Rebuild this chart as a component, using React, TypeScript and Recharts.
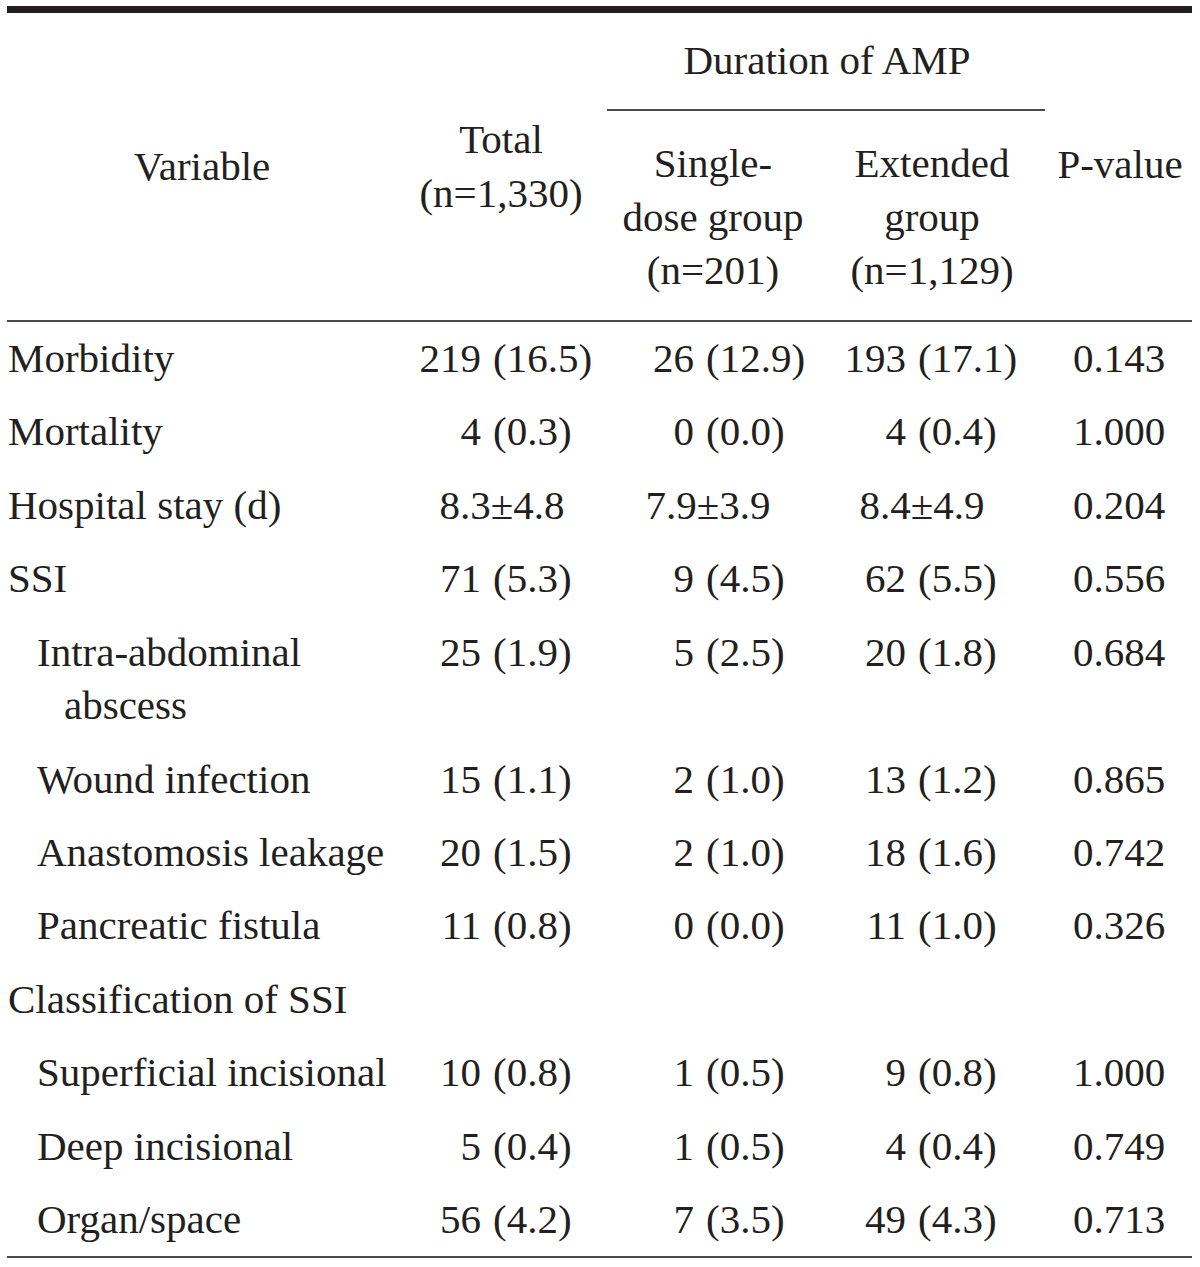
import React from "react";
import { ScatterChart, Scatter, XAxis, YAxis, ReferenceLine } from "recharts";

// table content
const variables = [
  ["Morbidity"],
  ["Mortality"],
  ["Hospital stay (d)"],
  ["SSI"],
  ["Intra-abdominal", "abscess"],
  ["Wound infection"],
  ["Anastomosis leakage"],
  ["Pancreatic fistula"],
  ["Classification of SSI"],
  ["Superficial incisional"],
  ["Deep incisional"],
  ["Organ/space"],
];
const isSubItem = [false, false, false, false, true, true, true, true, false, true, true, true];

const totalCol = ["219 (16.5)", "4 (0.3)", "8.3±4.8", "71 (5.3)", "25 (1.9)", "15 (1.1)", "20 (1.5)", "11 (0.8)", "", "10 (0.8)", "5 (0.4)", "56 (4.2)"];
const singleDoseCol = ["26 (12.9)", "0 (0.0)", "7.9±3.9", "9 (4.5)", "5 (2.5)", "2 (1.0)", "2 (1.0)", "0 (0.0)", "", "1 (0.5)", "1 (0.5)", "7 (3.5)"];
const extendedCol = ["193 (17.1)", "4 (0.4)", "8.4±4.9", "62 (5.5)", "20 (1.8)", "13 (1.2)", "18 (1.6)", "11 (1.0)", "", "9 (0.8)", "4 (0.4)", "49 (4.3)"];
const pValueCol = ["0.143", "1.000", "0.204", "0.556", "0.684", "0.865", "0.742", "0.326", "", "1.000", "0.749", "0.713"];

const spannerLabel = "Duration of AMP";
const variableHeader = ["Variable"];
const totalHeader = ["Total", "(n=1,330)"];
const singleHeader = ["Single-", "dose group", "(n=201)"];
const extendedHeader = ["Extended", "group", "(n=1,129)"];
const pValueHeader = ["P-value"];

// layout
const W = 1200;
const H = 1267;
const FONT = '"Liberation Serif", "DejaVu Serif", serif';
const INK = "#231f20";
const RULE = "#4a4a4a";
const FS = 41;

const bodyTop = 372;
const rowPitch = 73.4;
const linePitch = 53.6;

type Anchor = "start" | "middle" | "end";
type Cell = { x: number; y: number; text: string; anchor: Anchor };

const numCols = [
  { values: totalCol, paren: 493, center: 502 },
  { values: singleDoseCol, paren: 706, center: 708 },
  { values: extendedCol, paren: 918, center: 922 },
];

function buildCells(): Cell[] {
  const cells: Cell[] = [];
  let extra = 0;
  variables.forEach((lines, i) => {
    const y = bodyTop + i * rowPitch + extra * linePitch;
    lines.forEach((t, k) => {
      const x = k > 0 ? 64 : isSubItem[i] ? 37 : 8;
      cells.push({ x, y: y + k * linePitch, text: t, anchor: "start" });
    });
    extra += lines.length - 1;

    numCols.forEach((c) => {
      const v = c.values[i];
      if (!v) return;
      const p = v.indexOf(" (");
      if (p >= 0) {
        cells.push({ x: c.paren - 12, y, text: v.slice(0, p), anchor: "end" });
        cells.push({ x: c.paren, y, text: v.slice(p + 1), anchor: "start" });
      } else {
        cells.push({ x: c.center, y, text: v, anchor: "middle" });
      }
    });
    if (pValueCol[i]) cells.push({ x: 1119, y, text: pValueCol[i], anchor: "middle" });
  });

  // header
  cells.push({ x: 827, y: 74, text: spannerLabel, anchor: "middle" });
  variableHeader.forEach((t, k) => cells.push({ x: 202, y: 180 + k * linePitch, text: t, anchor: "middle" }));
  totalHeader.forEach((t, k) => cells.push({ x: 501, y: 153 + k * linePitch, text: t, anchor: "middle" }));
  singleHeader.forEach((t, k) => cells.push({ x: 713, y: 177 + k * linePitch, text: t, anchor: "middle" }));
  extendedHeader.forEach((t, k) => cells.push({ x: 932, y: 177 + k * linePitch, text: t, anchor: "middle" }));
  pValueHeader.forEach((t, k) => cells.push({ x: 1120, y: 178 + k * linePitch, text: t, anchor: "middle" }));
  return cells;
}

const cells = buildCells();

const TextCell = (props: any) => {
  const { cx, cy, payload } = props;
  return (
    <text x={cx} y={cy} textAnchor={payload.anchor} fontFamily={FONT} fontSize={FS} fill={INK}>
      {payload.text}
    </text>
  );
};

export default function App() {
  return (
    <div style={{ position: "absolute", left: 0, top: 0, background: "#fff" }}>
      <ScatterChart width={W} height={H} margin={{ top: 0, right: 0, bottom: 0, left: 0 }}>
        <XAxis type="number" dataKey="x" domain={[0, W]} hide />
        <YAxis type="number" dataKey="y" domain={[0, H]} reversed hide />
        <ReferenceLine segment={[{ x: 7, y: 9.5 }, { x: 1192, y: 9.5 }]} stroke={INK} strokeWidth={7} />
        <ReferenceLine segment={[{ x: 607, y: 110 }, { x: 1045, y: 110 }]} stroke={RULE} strokeWidth={2} />
        <ReferenceLine segment={[{ x: 7, y: 321 }, { x: 1192, y: 321 }]} stroke={RULE} strokeWidth={2} />
        <ReferenceLine segment={[{ x: 7, y: 1257 }, { x: 1192, y: 1257 }]} stroke={RULE} strokeWidth={2} />
        <Scatter data={cells} shape={TextCell} isAnimationActive={false} />
      </ScatterChart>
    </div>
  );
}
